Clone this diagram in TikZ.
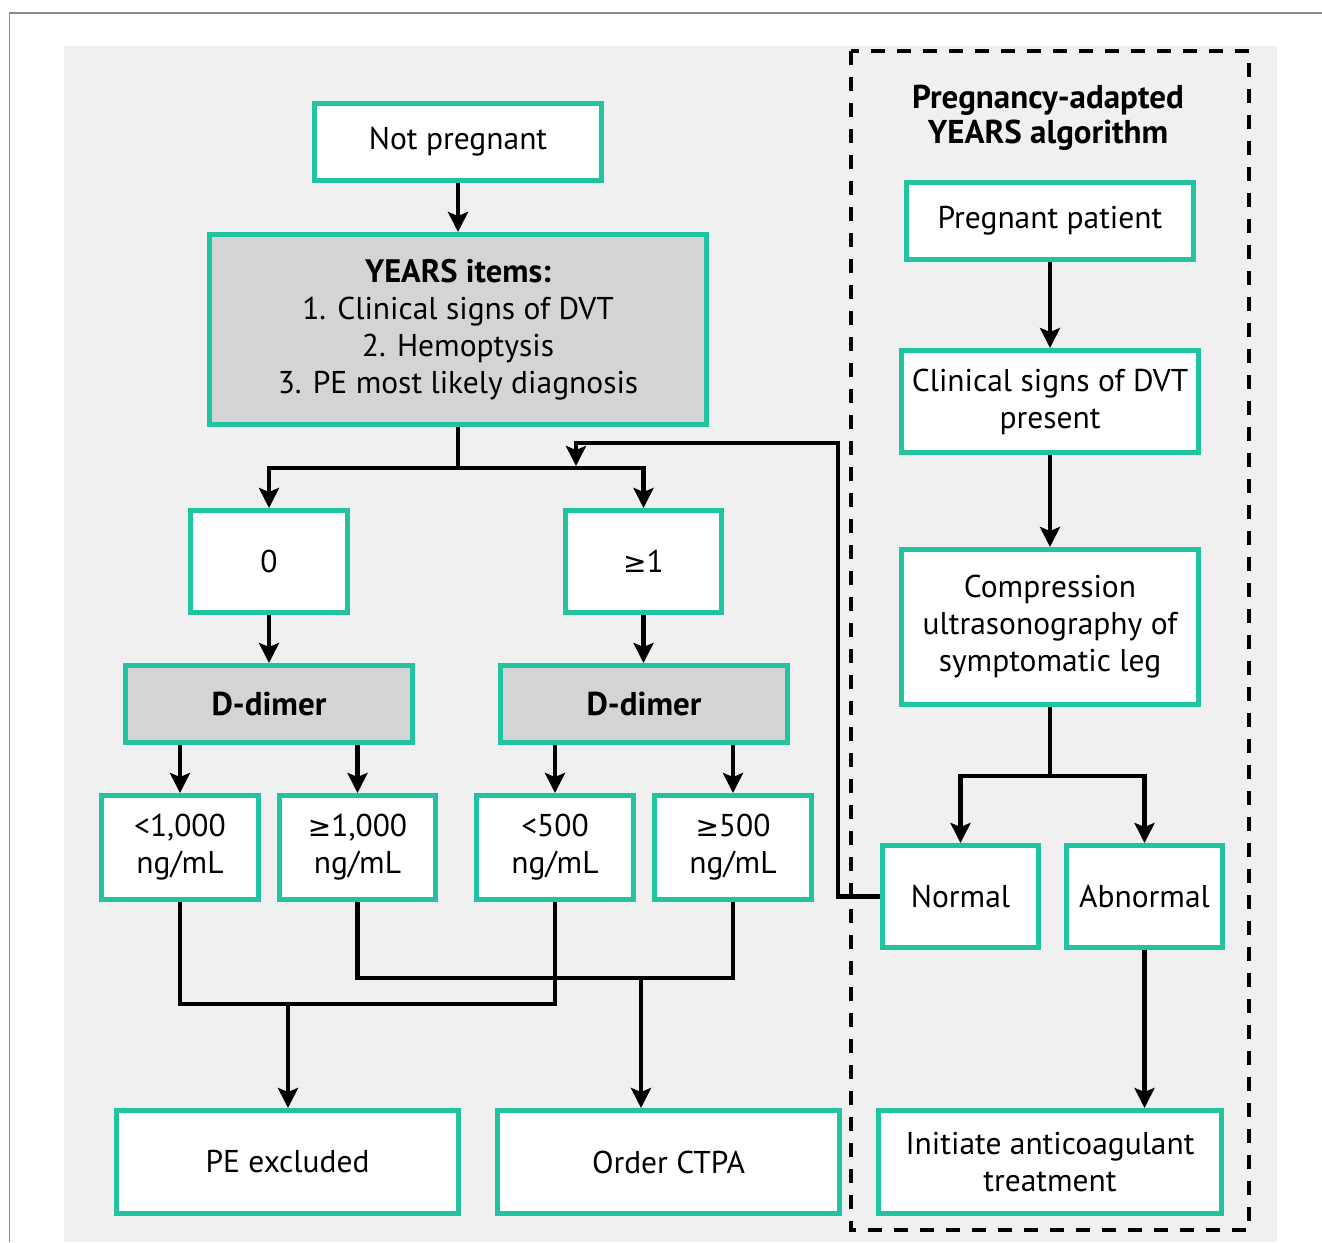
\documentclass[tikz,border=0pt]{standalone}
\usepackage{fontspec}
\setmainfont{PT Sans}
\newfontfamily\symf{DejaVu Sans}
\newcommand{\gesym}{{\symf\fontsize{28}{37}\selectfont ≥}}
\usetikzlibrary{arrows.meta}
\definecolor{teal1}{HTML}{22C3A0}
\definecolor{bgc}{HTML}{EFF0EF}
\definecolor{boxgray}{HTML}{D4D4D4}
\definecolor{framegray}{HTML}{8A8A8A}
\begin{document}
\begin{tikzpicture}[x=1pt,y=-1pt,
  box/.style={draw=teal1, line width=5pt, fill=white, align=center, inner sep=0pt,
    font=\fontsize{31.5}{37}\selectfont},
  gbox/.style={box, fill=boxgray},
  bld/.style={font=\fontsize{33}{37}\selectfont\bfseries},
  conn/.style={line width=4.5pt},
  arr/.style={conn, -{Stealth[length=20pt,width=20pt,inset=4pt]}},
  panel/.style={line width=4.5pt, dash pattern=on 14pt off 12pt},
  title/.style={align=center, inner sep=0pt, font=\fontsize{33}{35}\selectfont\bfseries},
]
\useasboundingbox (0,0) rectangle (1322,1242);
\fill[white] (0,0) rectangle (1322,1242);
\draw[framegray, line width=1.5pt] (9.5,1242) -- (9.5,13) -- (1322,13);
\fill[bgc] (64,46) rectangle (1277,1242);
\draw[panel] (851,51) rectangle (1249,1230);

% left algorithm
\node[box, minimum width=287pt, minimum height=77pt] (np) at (458,142) {Not pregnant};
\node[gbox, minimum width=497pt, minimum height=190pt] (years) at (458,329.5)
  {{\fontsize{32.5}{37}\selectfont\bfseries YEARS items:}\\1. Clinical signs of DVT\\2. Hemoptysis\\3. PE most likely diagnosis};
\node[box, minimum width=157pt, minimum height=102pt] (zero) at (269,561.5) {0};
\node[box, minimum width=156pt, minimum height=102pt] (ge1) at (643.5,561.5) {\gesym1};
\node[gbox, bld, minimum width=287pt, minimum height=77pt] (dd1) at (269,704) {D-dimer};
\node[gbox, bld, minimum width=287pt, minimum height=77pt] (dd2) at (644,704) {D-dimer};
\node[box, minimum width=157pt, minimum height=104pt] (r1) at (180,847.5) {<1,000\\ng/mL};
\node[box, minimum width=156pt, minimum height=104pt] (r2) at (357.5,847.5) {\gesym1,000\\ng/mL};
\node[box, minimum width=157pt, minimum height=104pt] (r3) at (555,847.5) {<500\\ng/mL};
\node[box, minimum width=157pt, minimum height=104pt] (r4) at (733,847.5) {\gesym500\\ng/mL};
\node[box, minimum width=342pt, minimum height=103pt] (pe) at (287.5,1162) {PE excluded};
\node[box, minimum width=342pt, minimum height=103pt] (ctpa) at (668.5,1162) {Order CTPA};

% right panel
\node[title] (ttl) at (1048,118) {Pregnancy-adapted\\YEARS algorithm};
\node[box, minimum width=287pt, minimum height=77pt] (preg) at (1050,221) {Pregnant patient};
\node[box, minimum width=297pt, minimum height=102pt] (clin) at (1050,401.5) {Clinical signs of DVT\\present};
\node[box, minimum width=297pt, minimum height=155pt] (comp) at (1050,627) {Compression\\ultrasonography of\\symptomatic leg};
\node[box, minimum width=156pt, minimum height=102pt] (normal) at (960.5,896.5) {Normal};
\node[box, minimum width=156pt, minimum height=102pt] (abn) at (1144.5,896.5) {Abnormal};
\node[box, minimum width=343pt, minimum height=103pt] (init) at (1050,1162) {Initiate anticoagulant\\treatment};

% junction points
\coordinate (j1) at (458,468);
\coordinate (fbend) at (576,466);
\coordinate (jpe) at (288,1004);
\coordinate (jct) at (641,978);
\coordinate (jc) at (1050,776);

% connectors left
\draw[arr] (np.south) -- (years.north);
\draw[conn] (years.south) -- (j1);
\draw[arr] (j1) -| (zero.north);
\draw[arr] (j1) -| (ge1.north);
\draw[arr] (normal.west) -| (838,443) -| (fbend);
\draw[arr] (zero.south) -- (dd1.north);
\draw[arr] (ge1.south) -- (ge1.south |- dd2.north);
\draw[arr] (dd1.south -| r1.north) -- (r1.north);
\draw[arr] (dd1.south -| r2.north) -- (r2.north);
\draw[arr] (dd2.south -| r3.north) -- (r3.north);
\draw[arr] (dd2.south -| r4.north) -- (r4.north);
\draw[conn] (r1.south) |- (r3.south |- jpe) -- (r3.south);
\draw[arr] (jpe) -- (jpe |- pe.north);
\draw[conn] (r2.south) |- (r4.south |- jct) -- (r4.south);
\draw[arr] (jct) -- (jct |- ctpa.north);

% connectors right
\draw[arr] (preg.south) -- (clin.north);
\draw[arr] (clin.south) -- (comp.north);
\draw[conn] (comp.south) -- (jc);
\draw[arr] (jc) -| (normal.north);
\draw[arr] (jc) -| (abn.north);
\draw[arr] (abn.south) -- (abn.south |- init.north);
\end{tikzpicture}
\end{document}
